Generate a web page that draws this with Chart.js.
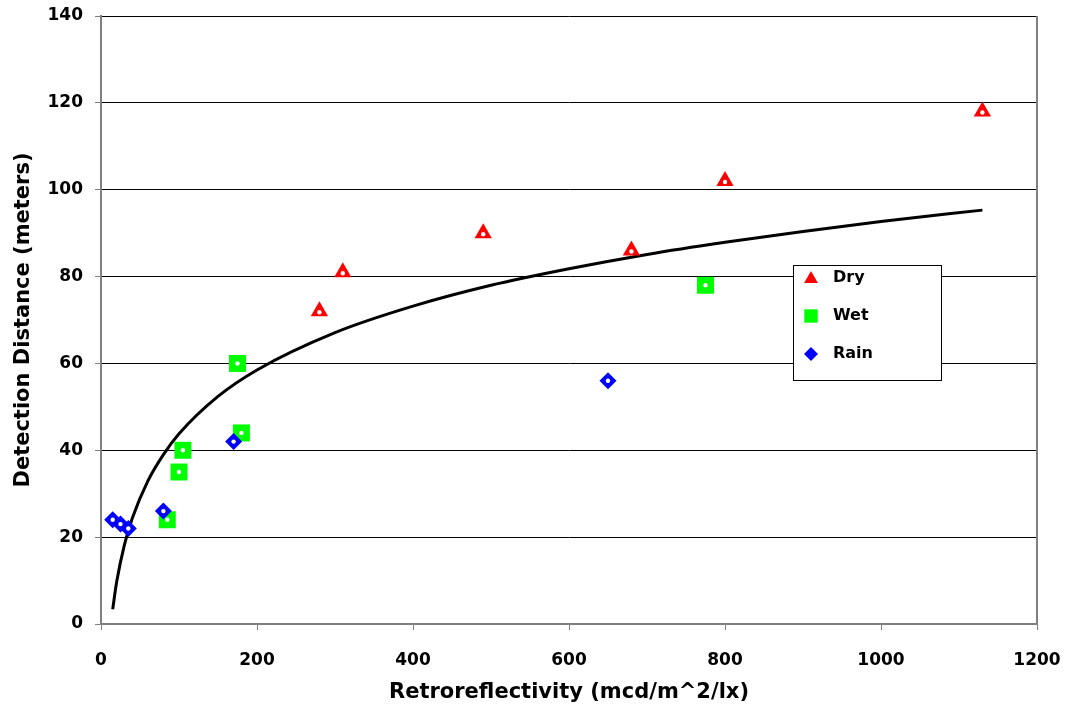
<!DOCTYPE html>
<html>
<head>
  <meta charset="UTF-8">
  <title>Detection Distance vs Retroreflectivity</title>
  <script src="https://cdn.jsdelivr.net/npm/chart.js"></script>
  <style>
    * { margin: 0; padding: 0; box-sizing: border-box; }
    body { background: #fff; }
    .wrap { width: 1068px; height: 714px; position: relative; }
  </style>
</head>
<body>
  <div class="wrap"><canvas id="chart"></canvas></div>

  <script>
    // --- Data ---
    const dryX  = [280, 310, 490, 680, 800, 1130];
    const dryY  = [72, 81, 90, 86, 102, 118];
    const wetX  = [85, 100, 105, 175, 180, 775];
    const wetY  = [24, 35, 40, 60, 44, 78];
    const rainX = [15, 25, 35, 80, 170, 650];
    const rainY = [24, 23, 22, 26, 42, 56];

    // trend curve, sampled by eye along the drawn line
    const trendX = [15, 20, 30, 40, 60, 80, 100, 150, 200, 300, 400, 500, 600, 700, 800, 900, 1000, 1130];
    const trendY = [3.4, 9.6, 18.2, 24.3, 32.9, 39.0, 43.8, 52.4, 58.5, 67.1, 73.2, 78.0, 81.8, 85.1, 87.9, 90.4, 92.7, 95.3];

    const xTicks = [0, 200, 400, 600, 800, 1000, 1200];
    const yTicks = [0, 20, 40, 60, 80, 100, 120, 140];

    const seriesNames = ['Dry', 'Wet', 'Rain'];

    const pts = (xs, ys) => xs.map((x, i) => ({ x, y: ys[i] }));

    const FONT = '"DejaVu Sans", "Liberation Sans", Arial, sans-serif';

    // white dot in the middle of every marker
    const centerDots = {
      id: 'centerDots',
      afterDatasetsDraw(chart) {
        const ctx = chart.ctx;
        ctx.save();
        ctx.fillStyle = '#fff';
        [0, 1, 2].forEach(i => {
          chart.getDatasetMeta(i).data.forEach(p => {
            ctx.beginPath();
            ctx.arc(p.x, p.y + (i === 0 ? 1 : 0), 2.2, 0, Math.PI * 2);
            ctx.fill();
          });
        });
        ctx.restore();
      }
    };

    // right frame line + boxed legend inside the plot
    const frameAndLegend = {
      id: 'frameAndLegend',
      afterDraw(chart) {
        const ctx = chart.ctx;
        const a = chart.chartArea;
        ctx.save();
        ctx.strokeStyle = '#808080';
        ctx.lineWidth = 2;
        ctx.beginPath();
        ctx.moveTo(a.right, a.top);
        ctx.lineTo(a.right, a.bottom);
        ctx.stroke();

        // legend box
        const bx = 793, by = 265, bw = 148, bh = 115;
        ctx.fillStyle = '#fff';
        ctx.fillRect(bx, by, bw, bh);
        ctx.strokeStyle = '#000';
        ctx.lineWidth = 1;
        ctx.strokeRect(bx + 0.5, by + 0.5, bw, bh);

        const styles = [
          { pointStyle: 'triangle', radius: 8, color: '#ff0000' },
          { pointStyle: 'rect', radius: 9.5, color: '#00ff00' },
          { pointStyle: 'rectRot', radius: 7, color: '#0000ff' }
        ];
        ctx.font = 'bold 16px ' + FONT;
        ctx.textBaseline = 'middle';
        seriesNames.forEach((name, i) => {
          const cy = by + 13 + i * 38;
          const s = styles[i];
          ctx.fillStyle = s.color;
          Chart.helpers.drawPoint(ctx, { pointStyle: s.pointStyle, radius: s.radius, rotation: 0, borderWidth: 0 }, bx + 18, cy + (i === 0 ? 1 : 0));
          ctx.fillStyle = '#000';
          ctx.fillText(name, bx + 40, cy);
        });
        ctx.restore();
      }
    };

    new Chart(document.getElementById('chart'), {
      type: 'scatter',
      data: {
        datasets: [
          {
            label: 'Dry', data: pts(dryX, dryY),
            pointStyle: 'triangle', pointRadius: 10, pointHoverRadius: 10,
            backgroundColor: '#ff0000', borderColor: '#ff0000', borderWidth: 0, order: 1
          },
          {
            label: 'Wet', data: pts(wetX, wetY),
            pointStyle: 'rect', pointRadius: 12, pointHoverRadius: 12,
            backgroundColor: '#00ff00', borderColor: '#00ff00', borderWidth: 0, order: 2
          },
          {
            label: 'Rain', data: pts(rainX, rainY),
            pointStyle: 'rectRot', pointRadius: 8.5, pointHoverRadius: 8.5,
            backgroundColor: '#0000ff', borderColor: '#0000ff', borderWidth: 0, order: 0
          },
          {
            label: 'Trend', type: 'line', data: pts(trendX, trendY),
            showLine: true, pointRadius: 0, borderColor: '#000', borderWidth: 3,
            cubicInterpolationMode: 'monotone', fill: false, order: 10
          }
        ]
      },
      options: {
        responsive: true,
        maintainAspectRatio: false,
        animation: false,
        layout: { padding: { left: 11, right: 31, top: 16, bottom: 5 } },
        plugins: {
          legend: { display: false },
          tooltip: { enabled: false }
        },
        scales: {
          x: {
            type: 'linear', min: 0, max: 1200,
            afterBuildTicks: s => { s.ticks = xTicks.map(v => ({ value: v })); },
            afterFit: s => { s.height = 85; s.paddingLeft = 0; s.paddingRight = 0; },
            ticks: {
              color: '#000', font: { family: FONT, size: 17, weight: 'bold' }, padding: 20, maxRotation: 0,
              callback: v => String(v)
            },
            grid: { drawOnChartArea: false, tickLength: 6, tickColor: '#808080' },
            border: { color: '#808080', width: 2 },
            title: {
              display: true, text: 'Retroreflectivity (mcd/m^2/lx)', color: '#000',
              font: { family: FONT, size: 21, weight: 'bold' }, padding: { top: 4 }
            }
          },
          y: {
            type: 'linear', min: 0, max: 140,
            afterBuildTicks: s => { s.ticks = yTicks.map(v => ({ value: v })); },
            afterFit: s => { s.width = 90; s.paddingTop = 0; s.paddingBottom = 0; },
            ticks: { color: '#000', font: { family: FONT, size: 17, weight: 'bold' }, padding: 12 },
            grid: { color: '#000', lineWidth: 1, tickLength: 6, tickColor: '#808080' },
            border: { color: '#808080', width: 2 },
            title: {
              display: true, text: 'Detection Distance (meters)', color: '#000',
              font: { family: FONT, size: 21, weight: 'bold' }, padding: { top: 0, bottom: 0 }
            }
          }
        }
      },
      plugins: [centerDots, frameAndLegend]
    });
  </script>
</body>
</html>
